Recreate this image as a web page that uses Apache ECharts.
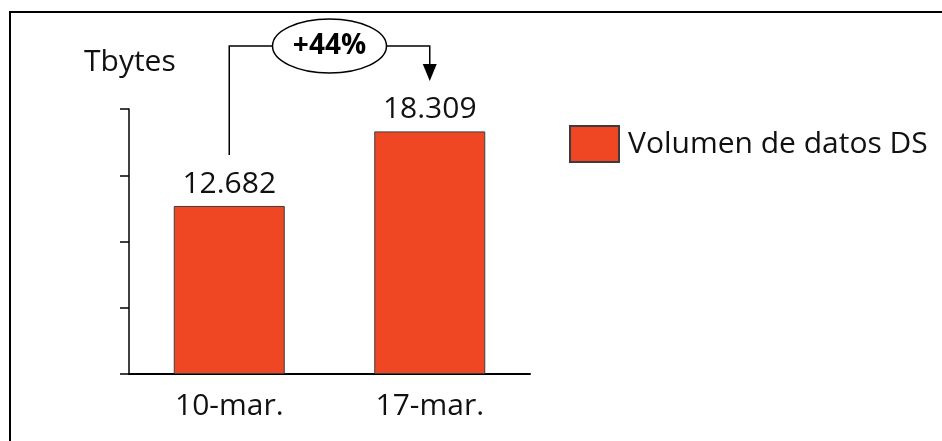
<!DOCTYPE html>
<html>
<head>
<meta charset="utf-8">
<script src="https://cdn.jsdelivr.net/npm/echarts@6/dist/echarts.min.js"></script>
<style>
html,body{margin:0;padding:0;background:#fff;}
#chart{width:942px;height:441px;}
</style>
</head>
<body>
<div id="chart"></div>
<script>
const categories = ['10-mar.', '17-mar.'];
const seriesName = 'Volumen de datos DS';
const values = [12682, 18309];
const yMin = 0, yMax = 20000, yInterval = 5000;
const unitLabel = 'Tbytes';

const FONT = '"Open Sans", "DejaVu Sans", sans-serif';
const BAR_COLOR = '#EF4723';

function fmt(v) {
  return String(v).replace(/\B(?=(\d{3})+(?!\d))/g, '.');
}

const chart = echarts.init(document.getElementById('chart'), null, {renderer: 'canvas'});

const option = {
  animation: false,
  backgroundColor: '#fff',
  grid: {left: 129, right: 412, top: 109, bottom: 67, containLabel: false},
  legend: {
    data: [seriesName],
    left: 569, top: 125, padding: 0,
    itemWidth: 49, itemHeight: 36, itemGap: 0,
    icon: 'rect',
    textStyle: {fontFamily: FONT, fontSize: 30, color: '#111', padding: [0, 0, 0, 4]}
  },
  xAxis: {
    type: 'category',
    data: categories,
    axisLine: {show: true, lineStyle: {color: '#000', width: 2}},
    axisTick: {show: false},
    axisLabel: {fontFamily: FONT, fontSize: 30, color: '#111', margin: 17}
  },
  yAxis: {
    type: 'value',
    min: yMin, max: yMax, interval: yInterval,
    axisLine: {show: true, lineStyle: {color: '#000', width: 1.5}},
    axisTick: {show: true, inside: false, length: 9, lineStyle: {color: '#000', width: 1.5}},
    axisLabel: {show: false},
    splitLine: {show: false}
  },
  series: [{
    name: seriesName,
    type: 'bar',
    data: values,
    barWidth: 111,
    itemStyle: {color: BAR_COLOR, borderColor: '#3c3c3c', borderWidth: 1},
    label: {
      show: true, position: 'top', distance: 7,
      fontFamily: FONT, fontSize: 30, color: '#111',
      formatter: p => fmt(p.value)
    }
  }]
};
chart.setOption(option);

// annotations computed from the scales
const p1 = chart.convertToPixel({seriesIndex: 0}, [0, values[0]]);
const p2 = chart.convertToPixel({seriesIndex: 0}, [1, values[1]]);
const pct = Math.round((values[1] / values[0] - 1) * 100);
const lineY = 46;
const ellCx = (p1[0] + p2[0]) / 2, ellRx = 57, ellRy = 27;

chart.setOption({
  graphic: [
    {type: 'polyline', shape: {points: [[10, 441], [10, 12], [942, 12]]},
     style: {stroke: '#000', lineWidth: 2, fill: null}},
    {type: 'text', x: 84, y: 62,
     style: {text: unitLabel, font: '30px ' + FONT, fill: '#111', verticalAlign: 'middle', align: 'left'}},
    {type: 'polyline', shape: {points: [[p1[0], p1[1] - 51], [p1[0], lineY], [ellCx - ellRx, lineY]]},
     style: {stroke: '#000', lineWidth: 1.5, fill: null}},
    {type: 'polyline', shape: {points: [[ellCx + ellRx, lineY], [p2[0], lineY], [p2[0], 66]]},
     style: {stroke: '#000', lineWidth: 1.5, fill: null}},
    {type: 'polygon', shape: {points: [[p2[0] - 7, 64], [p2[0] + 7, 64], [p2[0], 81]]},
     style: {fill: '#000'}},
    {type: 'ellipse', shape: {cx: ellCx, cy: lineY, rx: ellRx, ry: ellRy},
     style: {stroke: '#000', lineWidth: 1.5, fill: '#fff'}},
    {type: 'text', x: ellCx, y: lineY,
     style: {text: '+' + pct + '%', font: 'bold 28px ' + FONT, fill: '#000', align: 'center', verticalAlign: 'middle'}}
  ]
});
</script>
</body>
</html>
